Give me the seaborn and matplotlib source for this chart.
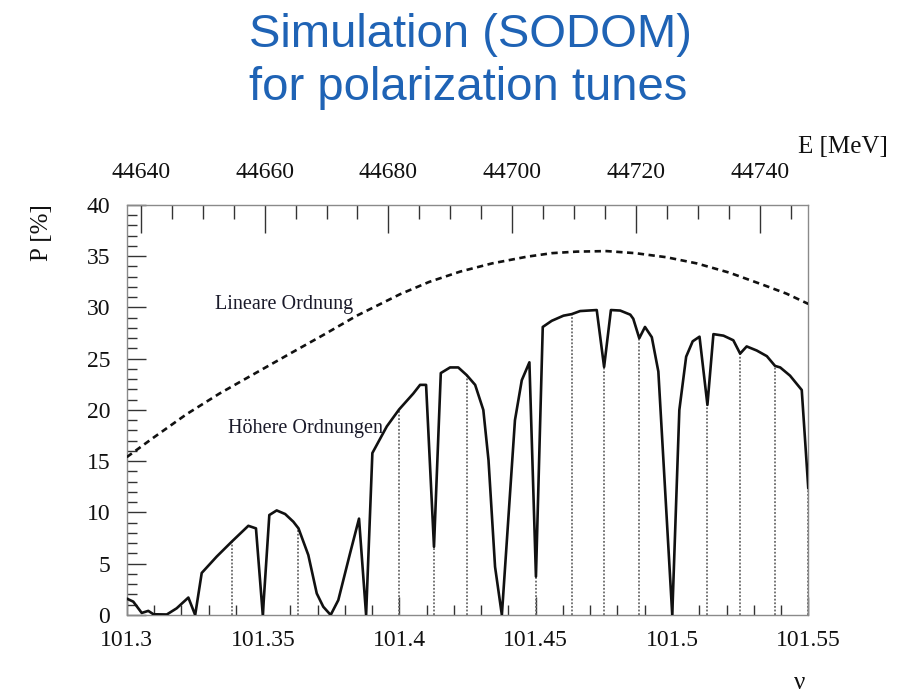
import numpy as np
import pandas as pd
import matplotlib
matplotlib.use("Agg")
import matplotlib.pyplot as plt
from matplotlib.ticker import MultipleLocator, FixedLocator
import seaborn as sns

# ---- data ----
nu_solid = [101.3000, 101.3024, 101.3055, 101.3079, 101.3098, 101.3147, 101.3183, 101.3226,
            101.3251, 101.3275, 101.3330, 101.3385, 101.3446, 101.3474, 101.3499, 101.3523,
            101.3550, 101.3581, 101.3611, 101.3630, 101.3666, 101.3697, 101.3721, 101.3748,
            101.3776, 101.3819, 101.3852, 101.3878, 101.3901, 101.3954, 101.3999, 101.4051,
            101.4076, 101.4098, 101.4127, 101.4152, 101.4186, 101.4216, 101.4247, 101.4278,
            101.4308, 101.4327, 101.4351, 101.4376, 101.4424, 101.4449, 101.4477, 101.4501,
            101.4526, 101.4559, 101.4602, 101.4632, 101.4663, 101.4724, 101.4751, 101.4776,
            101.4810, 101.4847, 101.4858, 101.4880, 101.4901, 101.4926, 101.4950, 101.5001,
            101.5027, 101.5052, 101.5076, 101.5101, 101.5130, 101.5152, 101.5189, 101.5225,
            101.5250, 101.5274, 101.5311, 101.5348, 101.5378, 101.5397, 101.5433, 101.5476,
            101.5500]
p_solid = [1.6, 1.3, 0.2, 0.4, 0.07, 0.05, 0.65, 1.7,
           0.0, 4.1, 5.7, 7.15, 8.7, 8.45, 0.0, 9.75,
           10.2, 9.85, 9.1, 8.45, 5.85, 2.1, 0.8, 0.0,
           1.45, 6.0, 9.4, 0.0, 15.8, 18.4, 20.05, 21.6,
           22.45, 22.45, 6.65, 23.6, 24.15, 24.15, 23.4, 22.45,
           20.0, 15.1, 4.7, 0.0, 19.0, 22.9, 24.65, 3.75,
           28.1, 28.7, 29.2, 29.35, 29.65, 29.75, 24.2, 29.75,
           29.7, 29.3, 28.9, 27.0, 28.1, 27.1, 23.75, 0.0,
           20.0, 25.2, 26.7, 27.15, 20.5, 27.4, 27.25, 26.8,
           25.5, 26.2, 25.8, 25.25, 24.3, 24.15, 23.35, 21.95,
           12.35]

nu_linear = [101.3000, 101.3098, 101.3220, 101.3340, 101.3466, 101.3599, 101.3720,
             101.3844, 101.4003, 101.4110, 101.4223, 101.4340, 101.4467, 101.4560,
             101.4651, 101.4760, 101.4865, 101.4980, 101.5091, 101.5210, 101.5335,
             101.5420, 101.5500]
p_linear = [15.4, 17.3, 19.6, 21.6, 23.5, 25.5, 27.3,
            29.2, 31.3, 32.5, 33.5, 34.3, 34.95, 35.3,
            35.45, 35.5, 35.3, 34.9, 34.3, 33.4, 32.2,
            31.35, 30.35]

nu_resonances = [101.3385, 101.3630, 101.3999, 101.4127, 101.4247, 101.4501, 101.4632,
                 101.4751, 101.4880, 101.5130, 101.5250, 101.5378, 101.5500]

x_ticks = [101.3, 101.35, 101.4, 101.45, 101.5, 101.55]
x_ticklabels = ["101.3", "101.35", "101.4", "101.45", "101.5", "101.55"]
y_ticks = [0, 5, 10, 15, 20, 25, 30, 35, 40]
e_ticks = [44640, 44660, 44680, 44700, 44720, 44740]

MEV_PER_NU = 440.6486

# ---- style ----
sns.set_style("white")
plt.rcParams['font.family'] = ['Liberation Serif', 'DejaVu Serif']

fig = plt.figure(figsize=(8.97, 6.96), dpi=100)
ax = fig.add_axes([0.1413, 0.1164, 0.9011 - 0.1413, 0.7055 - 0.1164])

df_solid = pd.DataFrame({"nu": nu_solid, "P": p_solid})
df_lin = pd.DataFrame({"nu": nu_linear, "P": p_linear})

# dotted resonance lines
res_h = np.interp(nu_resonances, nu_solid, p_solid)
ax.vlines(nu_resonances, 0, res_h, colors="#6a6a6a", linewidth=1.3,
          linestyles=(0, (1.0, 1.0)), zorder=1)

sns.lineplot(data=df_solid, x="nu", y="P", ax=ax, color="#111111", linewidth=1.9,
             estimator=None, sort=False, zorder=3)
sns.lineplot(data=df_lin, x="nu", y="P", ax=ax, color="#111111", linewidth=1.9,
             estimator=None, sort=False, linestyle=(0, (2.4, 1.7)), zorder=3)

ax.set_xlim(101.3, 101.55)
ax.set_ylim(0, 40)
ax.set_xlabel("")
ax.set_ylabel("")

ax.set_xticks(x_ticks)
ax.set_xticklabels(x_ticklabels)
ax.xaxis.set_minor_locator(MultipleLocator(0.01))
ax.set_yticks(y_ticks)
ax.set_yticklabels([str(v) for v in y_ticks])
ax.yaxis.set_minor_locator(MultipleLocator(1))

ax.tick_params(axis="both", which="both", direction="in", colors="#333333",
               labelcolor="#111111", labelsize=17, top=False, right=False,
               bottom=True, left=True)
ax.tick_params(axis="x", which="major", length=13, width=1.0, pad=11)
ax.tick_params(axis="x", which="minor", length=7, width=1.0)
ax.tick_params(axis="y", which="major", length=14, width=1.0, pad=12)
ax.tick_params(axis="y", which="minor", length=7, width=1.0)

for s in ax.spines.values():
    s.set_visible(True)
    s.set_color("#8a8a8a")
    s.set_linewidth(1.0)

sec = ax.secondary_xaxis("top", functions=(lambda n: n * MEV_PER_NU,
                                           lambda e: e / MEV_PER_NU))
sec.set_xticks(e_ticks)
sec.set_xticklabels([str(e) for e in e_ticks])
sec.xaxis.set_minor_locator(FixedLocator(np.arange(44640, 44756, 5)))
sec.tick_params(axis="x", which="both", direction="in", colors="#333333",
                labelcolor="#111111", labelsize=17, top=True)
sec.tick_params(axis="x", which="major", length=20, width=1.0, pad=16)
sec.tick_params(axis="x", which="minor", length=10, width=1.0)
sec.spines["top"].set_visible(False)

# in-plot labels
ax.text(101.3325, 30.3, "Lineare Ordnung", fontsize=14.5, color="#1a1a2a",
        va="center", ha="left")
ax.text(101.3370, 18.2, "Höhere Ordnungen", fontsize=14.5, color="#1a1a2a",
        va="center", ha="left")

# axis titles
fig.text(843 / 897, 1 - 147 / 696, "E [MeV]", fontsize=18, ha="center", va="center",
         color="#111111")
fig.text(42 / 897, 1 - 233 / 696, "P [%]", fontsize=18, ha="center", va="center",
         rotation=90, color="#111111")
fig.text(800 / 897, 1 - 683 / 696, "ν", fontsize=18, ha="center", va="center",
         color="#111111")

# title
fig.text(470 / 897, 1 - 35 / 696, "Simulation (SODOM)", fontsize=34, ha="center",
         va="center", color="#1f63b5", family=["Liberation Sans", "DejaVu Sans"])
fig.text(468 / 897, 1 - 88 / 696, "for polarization tunes", fontsize=34, ha="center",
         va="center", color="#1f63b5", family=["Liberation Sans", "DejaVu Sans"])

fig.savefig("out.png", dpi=100, facecolor="white")
